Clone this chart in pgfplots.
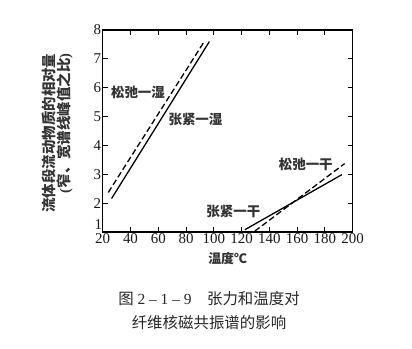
\documentclass[border=0pt]{standalone}
\usepackage{pgfplots}
\pgfplotsset{compat=1.18}
\usepackage{fontspec}
\setmainfont{Liberation Serif}
\newfontfamily\cjk{Noto Sans CJK SC}
\begin{document}
\begin{tikzpicture}
\begin{axis}[
  at={(0,0)}, anchor=south west,
  scale only axis, width=250bp, height=202bp,
  xmin=20, xmax=200, ymin=1, ymax=8,
  xtick={20,40,...,200}, ytick={2,...,8},
  extra y ticks={1},
  extra y tick style={yticklabel style={yshift=7.5bp, xshift=1bp}},
  tick pos=both, tick align=inside,
  major tick length=5bp,
  axis line style={line width=1.1bp},
  every tick/.style={line width=1bp, black},
  /pgf/number format/assume math mode=true,
  ticklabel style={font=\fontsize{15}{15}\selectfont, text=black!90},
  xticklabel style={yshift=2bp},
  yticklabel style={xshift=2bp},
  xlabel={温度℃},
  xlabel style={font=\cjk\bfseries\fontsize{13}{13}\selectfont, text=black!80, at={(axis description cs:0.5,-0.13)}, anchor=center},
  ylabel={流体段流动物质的相对量\\{\rmfamily(}窄、宽谱线峰值之比{\rmfamily)}},
  ylabel style={font=\cjk\bfseries\fontsize{14.5}{15}\selectfont, text=black!80, align=right, at={(axis description cs:-0.181,0.49)}, anchor=center},
  clip=false,
]
% 松弛-湿 (dashed)
\addplot[black, line width=1.3bp, dash pattern=on 6bp off 3bp] coordinates {(24.0,2.37) (93.5,7.63)};
% 张紧-湿 (solid)
\addplot[black, line width=1.3bp] coordinates {(26.4,2.16) (96.8,7.60)};
% 张紧-干 (solid)
\addplot[black, line width=1.3bp] coordinates {(122.4,1.08) (192.3,2.99)};
% 松弛-干 (dashed)
\addplot[black, line width=1.3bp, dash pattern=on 6bp off 3bp] coordinates {(129.5,1.03) (194.2,3.37)};
\node[font=\cjk\bfseries\fontsize{13.5}{13.5}\selectfont, text=black!80] at (axis cs:45.4,5.83) {松弛一湿};
\node[font=\cjk\bfseries\fontsize{13.5}{13.5}\selectfont, text=black!80] at (axis cs:86.8,4.91) {张紧一湿};
\node[font=\cjk\bfseries\fontsize{13.5}{13.5}\selectfont, text=black!80] at (axis cs:166.2,3.35) {松弛一干};
\node[font=\cjk\bfseries\fontsize{13.5}{13.5}\selectfont, text=black!80] at (axis cs:114.1,1.72) {张紧一干};
\end{axis}
\node[font=\fontsize{15.5}{15.5}\selectfont, text=black!85] at (106.3bp,-67bp) {{\cjk 图} 2 – 1 – 9\quad{\cjk 张力和温度对}};
\node[font=\cjk\fontsize{15.5}{15.5}\selectfont, text=black!85] at (106.3bp,-91bp) {纤维核磁共振谱的影响};
\path[use as bounding box] (-102.7bp,-117bp) rectangle (309.3bp,232bp);
\end{tikzpicture}
\end{document}
